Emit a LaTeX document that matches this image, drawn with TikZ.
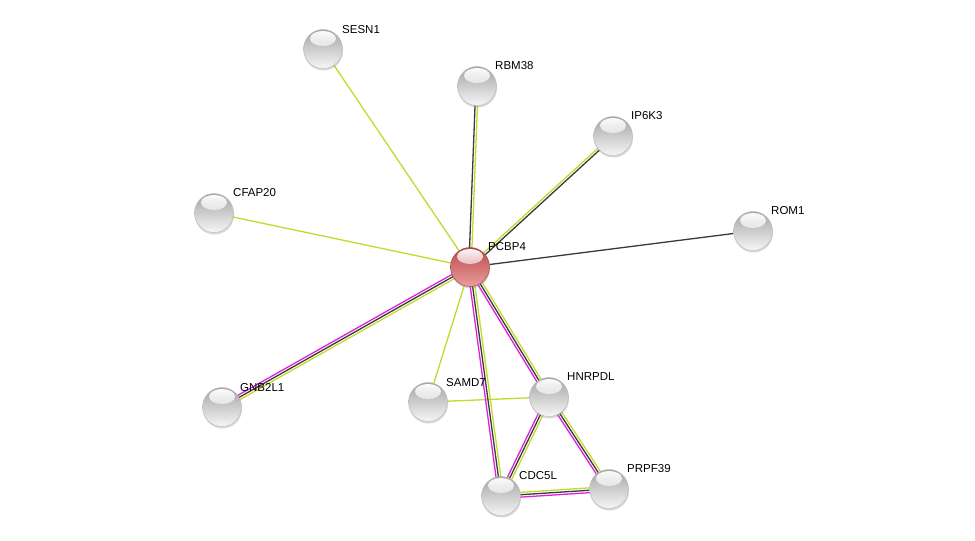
\documentclass[tikz,border=0pt]{standalone}
\usepackage{fontspec}
\setmainfont{Liberation Sans}
\usepackage{xcolor}
\usetikzlibrary{calc,shadows,backgrounds,fadings}

\definecolor{txtlink}{HTML}{C3DA2C}
\definecolor{explink}{HTML}{DD22DD}
\definecolor{coexlink}{HTML}{3A3A3A}
\definecolor{balltop}{HTML}{A4A4A4}
\definecolor{ballbot}{HTML}{F6F6F6}
\definecolor{redtop}{HTML}{B84A4A}
\definecolor{redbot}{HTML}{EC9C9C}

% one strand of a link, shifted sideways by #3
\newcommand{\linkline}[4]{%
  \draw[#4] ($(#1)!#3!90:(#2)$) -- ($(#2)!#3!-90:(#1)$);}

\tikzset{
  protein/.style={circle,minimum size=39pt,inner sep=0pt,
    top color=balltop,bottom color=ballbot,draw=gray!55,line width=0.4pt,
    drop shadow={opacity=0.3,shadow xshift=0.5pt,shadow yshift=-2pt},
    path picture={\fill[white,path fading=south]
      ($(path picture bounding box.north)+(0pt,-9pt)$) ellipse (13pt and 7.5pt);}},
  query/.style={protein,top color=redtop,bottom color=redbot,draw=redtop!80!black},
  plabel/.style={anchor=base west,inner sep=0pt,font=\fontsize{11.5}{13}\selectfont},
  strand/.style={line width=1.3pt}
}

\begin{document}
\begin{tikzpicture}[x=1pt,y=-1pt]
\useasboundingbox (0,0) rectangle (975,541);

%proteins
\node[query]   (pcbp4)  at (470,267) {};
\node[protein] (sesn1)  at (323,49)  {};
\node[protein] (rbm38)  at (477,86)  {};
\node[protein] (ip6k3)  at (613,136) {};
\node[protein] (cfap20) at (214,213) {};
\node[protein] (rom1)   at (753,231) {};
\node[protein] (gnb2l1) at (222,407) {};
\node[protein] (samd7)  at (428,402) {};
\node[protein] (hnrpdl) at (549,397) {};
\node[protein] (cdc5l)  at (501,496) {};
\node[protein] (prpf39) at (609,489) {};

%names
\node[plabel] (pcbp4lab)  at (488,250) {PCBP4};
\node[plabel] (sesn1lab)  at (342,33)  {SESN1};
\node[plabel] (rbm38lab)  at (495,69)  {RBM38};
\node[plabel] (ip6k3lab)  at (631,119) {IP6K3};
\node[plabel] (cfap20lab) at (233,196) {CFAP20};
\node[plabel] (rom1lab)   at (771,214) {ROM1};
\node[plabel] (gnb2l1lab) at (240,391) {GNB2L1};
\node[plabel] (samd7lab)  at (446,386) {SAMD7};
\node[plabel] (hnrpdllab) at (567,380) {HNRPDL};
\node[plabel] (cdc5llab)  at (519,479) {CDC5L};
\node[plabel] (prpf39lab) at (627,472) {PRPF39};

%links
\begin{pgfonlayer}{background}
\fill[white] (0,0) rectangle (975,541);
\draw[strand,txtlink] (pcbp4) -- (sesn1);
\draw[strand,txtlink] (pcbp4) -- (cfap20);
\draw[strand,txtlink] (pcbp4) -- (samd7);
\draw[strand,txtlink] (samd7) -- (hnrpdl);
\draw[strand,coexlink] (pcbp4) -- (rom1);
  \linkline{pcbp4}{rbm38}{1.2pt}{strand,coexlink}
  \linkline{pcbp4}{rbm38}{-1.2pt}{strand,txtlink}
  \linkline{pcbp4}{ip6k3}{1.2pt}{strand,txtlink}
  \linkline{pcbp4}{ip6k3}{-1.2pt}{strand,coexlink}
\foreach \a/\b in {pcbp4/gnb2l1,pcbp4/cdc5l,pcbp4/hnrpdl,hnrpdl/prpf39,hnrpdl/cdc5l,cdc5l/prpf39}{
  \linkline{\a}{\b}{2.4pt}{strand,txtlink}
  \linkline{\a}{\b}{0pt}{strand,coexlink}
  \linkline{\a}{\b}{-2.4pt}{strand,explink}
}
\end{pgfonlayer}

\end{tikzpicture}
\end{document}
